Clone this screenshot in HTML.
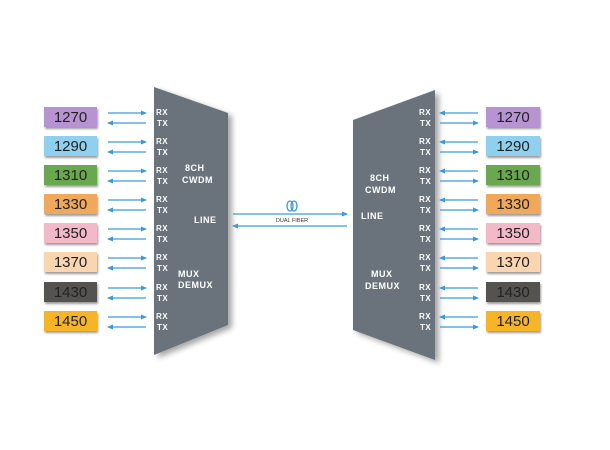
<!DOCTYPE html>
<html><head><meta charset="utf-8"><style>
body{margin:0;background:#fff}
svg{display:block}
text{font-family:"Liberation Sans",Arial,sans-serif}
.n{font-size:15px;fill:#222}
.s{font-size:8px;font-weight:bold;fill:#fff;letter-spacing:0.5px}
.b{font-size:9px;font-weight:bold;fill:#fff;letter-spacing:0.5px}
</style></head><body>
<svg width="610" height="450" viewBox="0 0 610 450">
<defs>
<marker id="a" markerWidth="6" markerHeight="6" refX="5" refY="3" orient="auto" markerUnits="userSpaceOnUse"><path d="M0,0.5 L6,3 L0,5.5z" fill="#3a9ad9"/></marker>
<filter id="sh" x="-20%" y="-10%" width="150%" height="130%"><feGaussianBlur in="SourceAlpha" stdDeviation="3"/><feOffset dx="4" dy="3"/><feComponentTransfer><feFuncA type="linear" slope="0.35"/></feComponentTransfer><feMerge><feMergeNode/><feMergeNode in="SourceGraphic"/></feMerge></filter>
<filter id="bs" x="-10%" y="-20%" width="130%" height="160%"><feGaussianBlur in="SourceAlpha" stdDeviation="1"/><feOffset dx="1" dy="2"/><feComponentTransfer><feFuncA type="linear" slope="0.4"/></feComponentTransfer><feMerge><feMergeNode/><feMergeNode in="SourceGraphic"/></feMerge></filter>
</defs>
<polygon points="154,87 228,113 228,325 154,355" fill="#6b737b" filter="url(#sh)"/>
<polygon points="353,120 435,90 435,360 353,330" fill="#6b737b" filter="url(#sh)"/>
<g stroke="#3a9ad9" stroke-width="1.3" fill="none">
<line x1="233" y1="214" x2="347" y2="214" marker-end="url(#a)"/>
<line x1="347" y1="226" x2="233" y2="226" marker-end="url(#a)"/>
<ellipse cx="290" cy="206" rx="3" ry="5"/><ellipse cx="294" cy="206" rx="3" ry="5"/>
</g>
<text x="292" y="222" font-size="5.5" fill="#333" text-anchor="middle">DUAL FIBER</text>
<text class="b" x="185" y="171" >8CH</text><text class="b" x="182" y="183">CWDM</text>
<text class="b" x="194" y="223">LINE</text>
<text class="b" x="178" y="277">MUX</text><text class="b" x="178" y="288">DEMUX</text>
<text class="b" x="370" y="181">8CH</text><text class="b" x="365" y="193">CWDM</text>
<text class="b" x="361" y="219">LINE</text>
<text class="b" x="371" y="277">MUX</text><text class="b" x="365" y="289">DEMUX</text>
<g id="rows"></g>
</svg>
<script>
var ys=[117,146,175,204,233,262,292,321];
var labels=["1270","1290","1310","1330","1350","1370","1430","1450"];
var cols=["#b793d2","#8fd0ef","#6aa84f","#f0a85a","#f3b9c9","#f9d6b0","#555250","#f5b526"];
var g=document.getElementById("rows"),s="";
for(var i=0;i<8;i++){var y=ys[i];
s+='<rect x="44" y="'+(y-10)+'" width="53" height="20" fill="'+cols[i]+'" filter="url(#bs)"/>';
s+='<text class="n" x="70.5" y="'+(y+5)+'" text-anchor="middle">'+labels[i]+'</text>';
s+='<rect x="486" y="'+(y-10)+'" width="54" height="20" fill="'+cols[i]+'" filter="url(#bs)"/>';
s+='<text class="n" x="513" y="'+(y+5)+'" text-anchor="middle">'+labels[i]+'</text>';
s+='<g stroke="#3a9ad9" stroke-width="1.3">';
s+='<line x1="108" y1="'+(y-4)+'" x2="146" y2="'+(y-4)+'" marker-end="url(#a)"/>';
s+='<line x1="146" y1="'+(y+6)+'" x2="108" y2="'+(y+6)+'" marker-end="url(#a)"/>';
s+='<line x1="478" y1="'+(y-4)+'" x2="440" y2="'+(y-4)+'" marker-end="url(#a)"/>';
s+='<line x1="440" y1="'+(y+6)+'" x2="478" y2="'+(y+6)+'" marker-end="url(#a)"/>';
s+='</g>';
s+='<text class="s" x="156" y="'+(y-2)+'">RX</text><text class="s" x="157" y="'+(y+9)+'">TX</text>';
s+='<text class="s" x="419" y="'+(y-2)+'">RX</text><text class="s" x="420" y="'+(y+9)+'">TX</text>';
}
g.innerHTML=s;
</script>
</body></html>
